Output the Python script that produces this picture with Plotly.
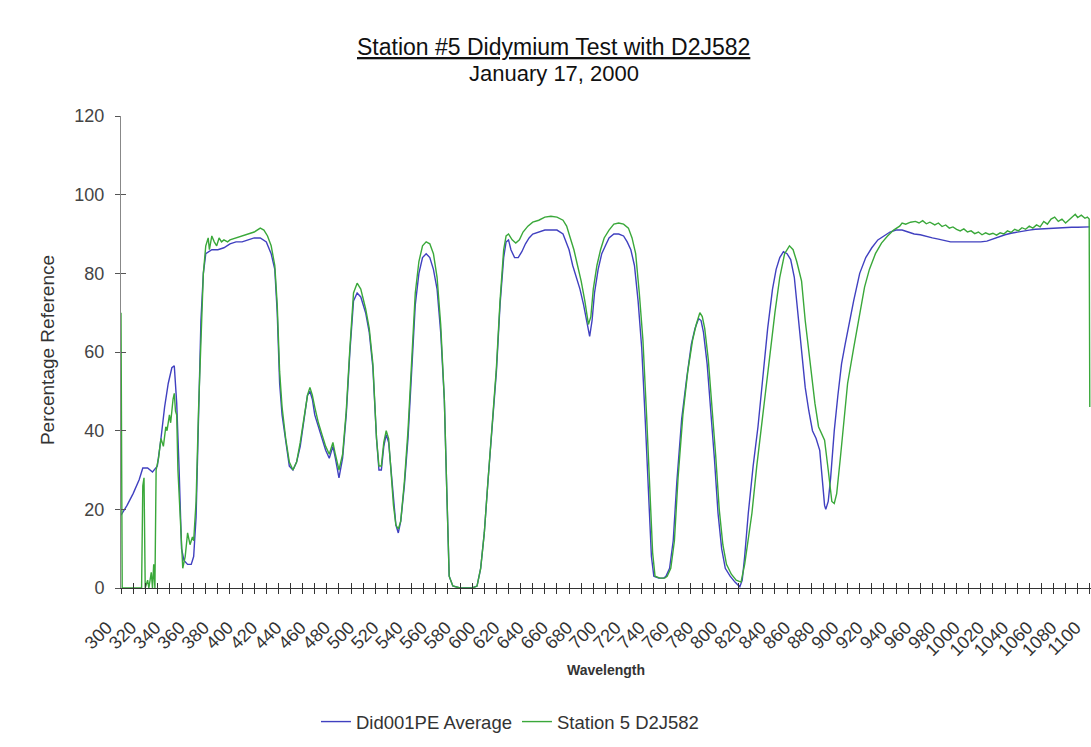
import plotly.graph_objects as go

# ---- data ----
blue_wl = [300,305,310,315,318,322,326,330,333,336,339,342,344,346,348,350,352,355,358,360,362,364,366,368,370,375,380,385,390,395,400,405,410,415,420,424,427,429,431,433,436,439,442,445,448,451,454,456,458,460,463,466,469,472,475,477,480,483,486,489,492,495,498,502,505,508,511,513,515,517,519,521,523,525,527,529,531,534,537,540,543,546,549,552,555,558,561,564,567,569,571,574,580,590,594,597,600,603,606,610,613,616,618,620,622,625,628,631,634,637,640,645,650,655,660,665,670,673,676,679,682,685,687,689,691,694,697,700,703,707,711,715,718,721,724,727,730,733,736,738,740,744,748,750,753,756,759,763,767,771,774,777,779,781,784,787,790,793,796,799,803,807,811,813,815,818,822,826,830,834,838,841,844,847,850,853,856,859,862,865,868,871,874,877,879,881,882,884,886,889,892,895,898,901,905,910,915,920,925,930,935,940,945,950,955,960,965,970,975,980,985,990,995,1000,1005,1010,1015,1020,1025,1030,1035,1040,1045,1050,1055,1060,1065,1070,1075,1080,1085,1090,1095,1100]
blue_val = [18.5,21,24,27.5,30.5,30.5,29.5,31,38,46,52,56,56.5,47,30,10,7,6,6,8,18,45,68,80,85,86,86,86.5,87.5,88,88,88.5,89,89,88,85,81,70,52,44,37,31,30,32,36,42,49,50,48,44,41,38,35,33,36,33,28,33,44,60,73,75,74,70,65,56,38,30,30,36,39,37,30,21,16,14,17,26,38,55,72,80,84,85,84,81,76,65,48,25,3,0.5,0,0,0.5,5,14,27,40,55,72,84,88,88.5,86,84,84,85.5,87.5,89,90,90.5,91,91,91,90,86,82,79,76,72,67,64,68,75,81,85,87,89,90,90,89.5,88,86,82,73,61,42,22,8,3,2.5,2.5,3,5,12,27,43,53,62,66,68.5,68,65,57,46,33,19,10,5,3,1.5,0.3,2,8,19,31,41,53,66,76,81,84,85.5,85,83.5,79,69,59,51,45,40,38,35,28,21,20,22,28,40,49,57,62,67,73,80,84,86.5,88.5,89.5,90.5,91,91,90.5,90,89.8,89.3,89,88.7,88.3,88,88,88,88,88,88,88.2,88.8,89.3,89.8,90.2,90.5,90.8,91,91.2,91.3,91.4,91.5,91.6,91.6,91.7,91.7,91.8,91.8]

green_wl = [300,300.5,301,317,318,319,320,322,323,325,326,327,328,329,331,333,335,337,338,340,341,343,344,345,346,347,349,351,353,355,357,359,360,362,364,366,368,370,372,373,375,377,379,381,383,385,388,390,395,400,405,410,415,418,421,424,427,429,431,433,436,439,442,445,448,451,454,456,458,460,463,466,469,472,475,477,480,483,486,489,492,495,498,502,505,508,511,513,515,517,519,521,523,525,527,529,531,534,537,540,543,546,549,552,555,558,561,564,567,569,571,574,580,590,594,597,600,603,606,610,613,616,618,620,623,626,629,632,636,640,645,650,655,660,665,668,671,674,677,680,683,686,688,690,693,696,699,703,707,711,715,719,722,725,728,731,734,737,739,741,745,749,751,754,757,760,764,768,772,775,778,780,782,785,788,791,794,797,800,804,808,812,815,818,821,825,830,835,840,844,848,852,855,858,862,865,868,870,873,876,879,881,884,887,889,891,894,897,900,905,910,914,918,923,928,933,938,943,945,948,952,956,959,962,965,968,972,975,978,981,984,987,990,993,996,999,1002,1005,1008,1011,1014,1017,1020,1023,1026,1029,1032,1035,1038,1041,1044,1047,1050,1053,1056,1059,1062,1065,1068,1071,1074,1077,1080,1083,1086,1088,1090,1093,1096,1098,1099.5,1100]
green_val = [70,43,0,0,26,28,0,2,0,4,0,6,0,30,33,38,36,41,40,44,42,48,49.5,45,44,30,18,5,8,14,11,13,12,22,45,65,80,87,89,86,89.5,88,87,89,88,88.5,88,88.5,89,89.5,90,90.5,91.5,91,89.5,87,82,72,55,46,38,32,30,32,37,43,49,51,49,46,42,39,36,34,37,34,30,34,45,61,75,77.5,76,71,66,57,38,31,31,37,40,38,30,21,16,15,17,27,40,58,75,83,87,88,87.5,85,79,67,48,25,3,0.5,0,0,0.5,5,14,27,40,56,73,86,89.5,90,88.5,87.7,88.5,90.5,92,93,93.5,94.3,94.5,94.3,93.5,92,89,86,82,78,73,67,69,76,82,86,89,91,92.5,92.8,92.5,91.5,89,85,75,63,44,24,9,3,2.5,2.5,3,5,12,28,44,55,63,67,70,69,66,58,47,34,20,11,6,3.5,2,1.5,6,12,19,31,44.5,58,70,79,85,87,86,83,78,68,60,55,47,41,39,37.6,30,22,21.5,24,33,42,52,61,70,76.5,81,85,87.7,89.5,91,92,92.8,92.5,93,93.2,92.8,93.4,92.6,93,92.3,92.8,91.9,92.3,91.5,91.8,91.2,90.8,91.3,90.5,90.8,90.1,90.5,89.8,90.3,89.9,90.2,89.7,90.3,90,90.8,90.4,91.2,90.8,91.6,91.2,92,91.5,92.3,91.8,93.2,92.5,93.8,94.3,93.2,93.8,92.8,93.6,94.5,95,94.2,94.8,94,94.3,93.8,46]

series_names = ["Did001PE Average", "Station 5 D2J582"]
title_main = "Station #5 Didymium Test with D2J582"
title_sub = "January 17, 2000"
x_title = "Wavelength"
y_title = "Percentage Reference"
x_range = [300, 1101]
y_range = [0, 120]

BLUE = "#4040c0"
GREEN = "#3aa83a"
FONT = "Liberation Sans, Arial, sans-serif"
TXT = "#333333"

fig = go.Figure()
fig.add_trace(go.Scatter(x=blue_wl, y=blue_val, mode="lines", name=series_names[0],
                         line=dict(color=BLUE, width=1.4)))
fig.add_trace(go.Scatter(x=green_wl, y=green_val, mode="lines", name=series_names[1],
                         line=dict(color=GREEN, width=1.4)))
# invisible helper trace so the overlay axes (inward ticks) are drawn
fig.add_trace(go.Scatter(x=[x_range[0]], y=[y_range[0]], xaxis="x2", yaxis="y2",
                         mode="markers", marker=dict(opacity=0), showlegend=False,
                         hoverinfo="skip"))

fig.update_layout(
    width=1091, height=747,
    paper_bgcolor="white", plot_bgcolor="white",
    margin=dict(l=121, r=0, t=116, b=159, autoexpand=False),
    font=dict(family=FONT, color=TXT),
    showlegend=True,
    legend=dict(orientation="h", x=0.401, y=-0.284, xanchor="center", yanchor="middle",
                font=dict(size=18.5, color=TXT), bgcolor="rgba(0,0,0,0)"),
    xaxis=dict(range=x_range, dtick=20, tick0=300, tickangle=-45, ticks="outside",
               ticklen=5, tickcolor="#333", showline=True, linecolor="#333", linewidth=1,
               showgrid=False, zeroline=False, tickfont=dict(size=18, color=TXT),
               automargin=False, ticklabeloverflow="allow",
               ticklabelshift=-14, ticklabelstandoff=16,
               minor=dict(dtick=10, tick0=300, ticks="outside", ticklen=5, tickcolor="#333")),
    yaxis=dict(range=y_range, dtick=20, ticks="outside", ticklen=5, tickcolor="#555",
               showline=True, linecolor="#888", linewidth=1, showgrid=False,
               zeroline=False, tickfont=dict(size=18, color="#444"), automargin=False,
               ticklabelstandoff=7),
    xaxis2=dict(range=x_range, overlaying="x", anchor="y2", side="bottom", dtick=10, tick0=300,
                ticks="inside", ticklen=5, tickcolor="#333", showticklabels=False,
                showgrid=False, zeroline=False, showline=False, automargin=False),
    yaxis2=dict(range=y_range, overlaying="y", anchor="x2", side="left", dtick=20,
                ticks="inside", ticklen=5, tickcolor="#555", showticklabels=False,
                showgrid=False, zeroline=False, showline=False, automargin=False),
    annotations=[
        dict(text="<u>" + title_main + "</u>", xref="paper", yref="paper", x=0.446, y=1.146,
             showarrow=False, font=dict(size=23, color="#111"), xanchor="center", yanchor="middle"),
        dict(text=title_sub, xref="paper", yref="paper", x=0.446, y=1.089,
             showarrow=False, font=dict(size=22, color="#111"), xanchor="center", yanchor="middle"),
        dict(text="<b>" + x_title + "</b>", xref="paper", yref="paper", x=0.5, y=-0.174,
             showarrow=False, font=dict(size=14, color=TXT), xanchor="center", yanchor="middle"),
        dict(text=y_title, xref="paper", yref="paper", x=-0.0763, y=0.504, textangle=-90,
             showarrow=False, font=dict(size=19, color=TXT), xanchor="center", yanchor="middle"),
    ],
)

fig.write_html("out.html", config={"displayModeBar": False},
               post_script="document.body.style.margin='0px';document.body.style.overflow='hidden';")
